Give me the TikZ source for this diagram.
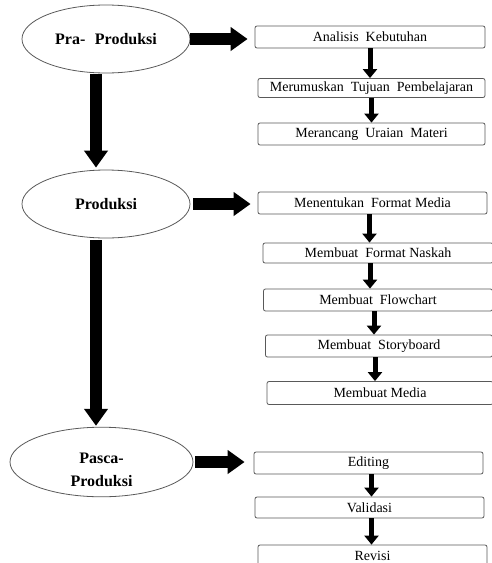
\documentclass[tikz,border=0pt]{standalone}
\usepackage{fontspec}
\setmainfont{Liberation Serif}
\usetikzlibrary{arrows.meta,shapes.geometric,calc}
\begin{document}
\begin{tikzpicture}[x=1pt,y=-1pt,
  stage/.style={ellipse,draw=black!65,line width=0.8pt,inner sep=0pt,font=\fontsize{16}{20}\selectfont\bfseries,align=center},
  stepbox/.style={draw=black!65,line width=0.8pt,rounded corners=2pt,inner sep=0pt,font=\fontsize{14}{16}\selectfont},
  bigarrow/.style={line width=12pt,-{Triangle[length=17pt,width=23pt]}},
  smallarrow/.style={line width=5pt,-{Triangle[length=9pt,width=14pt]}}]
\useasboundingbox (0,0) rectangle (492,563);
\clip (0,0) rectangle (492,563);
% stages
\node[stage,minimum width=168pt,minimum height=68pt] (pra) at (106,39) {Pra-\hspace{0.6em}Produksi};
\node[stage,minimum width=168pt,minimum height=68pt] (prod) at (106,204) {Produksi};
\node[stage,minimum width=183pt,minimum height=58pt] (pasca) at (101.5,462) {\rule{0pt}{26pt}Pasca-\\[3pt]Produksi};
% steps
\node[stepbox,minimum width=230pt,minimum height=22pt] (anal) at (370,37) {Analisis\ \ Kebutuhan};
\node[stepbox,minimum width=227pt,minimum height=19pt] (merum) at (371.5,88) {Merumuskan\ \ Tujuan\ \ Pembelajaran};
\node[stepbox,minimum width=227pt,minimum height=22pt] (meran) at (371.5,134) {Merancang\ \ Uraian\ \ Materi};
\node[stepbox,minimum width=229pt,minimum height=22pt] (ment) at (372.5,203) {Menentukan\ \ Format Media};
\node[stepbox,minimum width=230pt,minimum height=20pt] (nask) at (378,253) {Membuat\ \ Format Naskah};
\node[stepbox,minimum width=229pt,minimum height=22pt] (flow) at (378,300) {Membuat\ \ Flowchart};
\node[stepbox,minimum width=227pt,minimum height=22pt] (story) at (379,346) {Membuat\ \ Storyboard};
\node[stepbox,minimum width=226pt,minimum height=23pt] (media) at (380,393) {Membuat Media};
\node[stepbox,minimum width=229pt,minimum height=22pt] (edit) at (368.5,463) {Editing};
\node[stepbox,minimum width=229pt,minimum height=21pt] (valid) at (369.5,507.5) {Validasi};
\node[stepbox,minimum width=229pt,minimum height=22pt] (rev) at (372.5,556) {Revisi};
% big arrows
\draw[bigarrow,shorten >=7pt] (pra.east) -- (pra.east -| anal.west);
\draw[bigarrow,shorten >=7pt,shorten <=3pt] (prod.east) -- (prod.east -| ment.west);
\draw[bigarrow,shorten >=9pt,shorten <=2pt] (pasca.east) -- (pasca.east -| edit.west);
\draw[bigarrow,shorten <=1pt,shorten >=2pt] ([xshift=-10pt]pra.south) -- ([xshift=-10pt]prod.north);
\draw[bigarrow,shorten <=2pt,shorten >=1pt] ([xshift=-10pt]prod.south) -- ($(pasca.north)+(-5.5,0)$);
% small arrows
\draw[smallarrow] (anal.south) -- (anal.south |- merum.north);
\draw[smallarrow] (merum.south) -- (merum.south |- meran.north);
\draw[smallarrow] ([xshift=-3pt]ment.south) -- ([xshift=-3pt]ment.south |- nask.north);
\draw[smallarrow] ([xshift=-8pt]nask.south) -- ([xshift=-8pt]nask.south |- flow.north);
\draw[smallarrow] ([xshift=-4pt]flow.south) -- ([xshift=-4pt]flow.south |- story.north);
\draw[smallarrow] ([xshift=-4pt]story.south) -- ([xshift=-4pt]story.south |- media.north);
\draw[smallarrow] ([xshift=3pt]edit.south) -- ([xshift=3pt]edit.south |- valid.north);
\draw[smallarrow] ([xshift=2pt]valid.south) -- ([xshift=2pt]valid.south |- rev.north);
\end{tikzpicture}
\end{document}
